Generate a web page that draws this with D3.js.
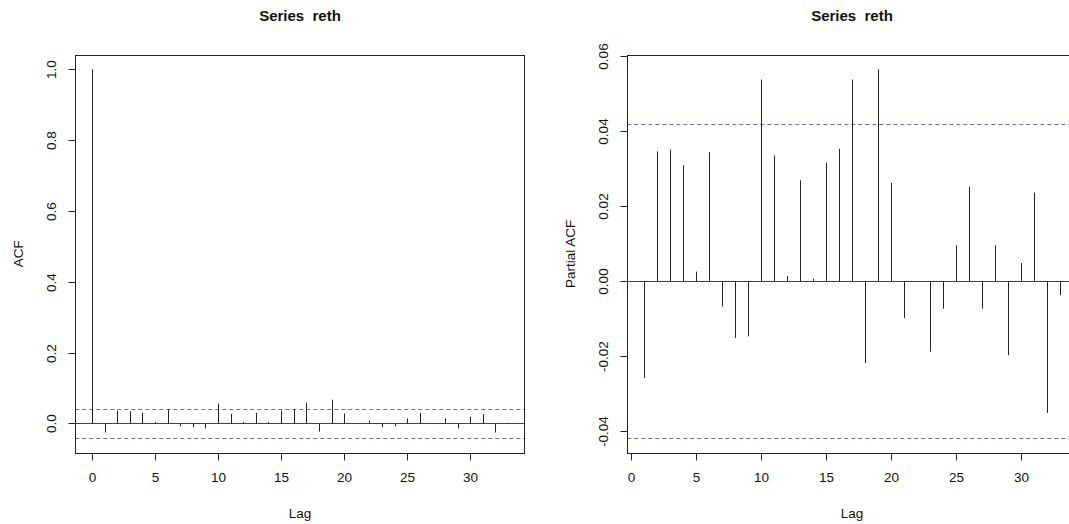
<!DOCTYPE html>
<html>
<head>
<meta charset="utf-8">
<script src="https://cdn.jsdelivr.net/npm/d3@7"></script>
<style>
  html, body { margin: 0; padding: 0; background: #fff; }
  svg { display: block; }
  text { font-family: "Liberation Sans", Arial, Helvetica, sans-serif; fill: #111; }
</style>
</head>
<body>
<svg id="chart" width="1069" height="524"></svg>
<script>
// Autocorrelation of reth, lags 0..33
const acfLags = d3.range(0, 34);
const acfValues = [1.000, -0.026, 0.036, 0.034, 0.030, 0.004, 0.040, -0.008, -0.011, -0.014,
                   0.056, 0.027, 0.004, 0.030, 0.004, 0.036, 0.041, 0.058, -0.023, 0.067,
                   0.028, -0.002, 0.008, -0.011, -0.008, 0.014, 0.030, -0.002, 0.014, -0.014,
                   0.019, 0.026, -0.026, 0.002];

// Partial autocorrelation of reth, lags 1..33
const pacfLags = d3.range(1, 34);
const pacfValues = [-0.0259, 0.0346, 0.0351, 0.0309, 0.0025, 0.0344, -0.0068, -0.0152, -0.0148, 0.0538,
                    0.0335, 0.0013, 0.0269, 0.0006, 0.0316, 0.0353, 0.0538, -0.0219, 0.0565, 0.0262,
                    -0.0099, -0.0003, -0.0189, -0.0074, 0.0095, 0.0252, -0.0074, 0.0095, -0.0198, 0.0048,
                    0.0236, -0.0352, -0.0038];

// 95% confidence bound (1.96 / sqrt(n))
const confLimit = 0.042;

const xTicks = [0, 5, 10, 15, 20, 25, 30];
const acfYTicks = [0.0, 0.2, 0.4, 0.6, 0.8, 1.0];
const pacfYTicks = [-0.04, -0.02, 0.00, 0.02, 0.04, 0.06];

const svg = d3.select("#chart");
const FONT = '"Liberation Sans", Arial, sans-serif';

// range extended by 4% on each side, as in base graphics
function padded(lo, hi) {
  const d = (hi - lo) * 0.04;
  return [lo - d, hi + d];
}
const px = v => Math.round(v) + 0.5;

function panel(opts) {
  const { left, top, width, height, lags, values, yTicks, yFmt, ylab, id } = opts;
  const g = svg.append("g");

  const x = d3.scaleLinear()
    .domain(padded(d3.min(lags), d3.max(lags)))
    .range([left, left + width]);
  const y = d3.scaleLinear()
    .domain(padded(Math.min(d3.min(values), -confLimit), Math.max(d3.max(values), confLimit)))
    .range([top + height, top]);

  const clipId = "clip-" + id;
  svg.append("clipPath").attr("id", clipId)
    .append("rect").attr("x", left).attr("y", top).attr("width", width).attr("height", height);

  const plot = g.append("g").attr("clip-path", `url(#${clipId})`);

  // zero line
  plot.append("line")
    .attr("x1", left).attr("x2", left + width)
    .attr("y1", px(y(0))).attr("y2", px(y(0)))
    .attr("stroke", "#444").attr("stroke-width", 1);

  // confidence bounds
  plot.selectAll("line.bound")
    .data([confLimit, -confLimit])
    .join("line")
    .attr("class", "bound")
    .attr("x1", left).attr("x2", left + width)
    .attr("y1", c => px(y(c))).attr("y2", c => px(y(c)))
    .attr("stroke", "#6c6cb0").attr("stroke-width", 1)
    .attr("stroke-dasharray", "4,3");

  // spikes
  plot.selectAll("line.spike")
    .data(lags.map((l, i) => ({ lag: l, v: values[i] })))
    .join("line")
    .attr("class", "spike")
    .attr("x1", d => px(x(d.lag))).attr("x2", d => px(x(d.lag)))
    .attr("y1", px(y(0))).attr("y2", d => y(d.v))
    .attr("stroke", "#222").attr("stroke-width", 1);

  // frame
  g.append("rect")
    .attr("x", px(left)).attr("y", px(top))
    .attr("width", Math.round(width)).attr("height", Math.round(height))
    .attr("fill", "none").attr("stroke", "#222").attr("stroke-width", 1);

  // x axis
  const xAxis = d3.axisBottom(x).tickValues(xTicks).tickSize(7).tickPadding(12).tickSizeOuter(0)
    .tickFormat(d3.format("d"));
  const xg = g.append("g").attr("transform", `translate(0,${px(top + height)})`).call(xAxis);
  xg.select(".domain").remove();
  xg.selectAll(".tick").attr("transform", d => `translate(${px(x(d))},0)`);
  xg.selectAll(".tick line").attr("stroke", "#222");
  xg.selectAll("text").attr("font-size", 13.5).attr("fill", "#111").style("font-family", FONT);

  // y axis with labels parallel to the axis
  const yAxis = d3.axisLeft(y).tickValues(yTicks).tickSize(7).tickSizeOuter(0).tickFormat(yFmt);
  const yg = g.append("g").attr("transform", `translate(${px(left)},0)`).call(yAxis);
  yg.select(".domain").remove();
  yg.selectAll(".tick").attr("transform", d => `translate(0,${px(y(d))})`);
  yg.selectAll(".tick line").attr("stroke", "#222");
  yg.selectAll(".tick text")
    .attr("x", null)
    .attr("text-anchor", "middle")
    .attr("transform", "translate(-24,0) rotate(-90)")
    .attr("dy", "0.35em")
    .attr("font-size", 13.5).attr("fill", "#111")
    .style("font-family", FONT);

  // title and axis titles
  g.append("text")
    .attr("x", left + width / 2).attr("y", 21)
    .attr("text-anchor", "middle")
    .attr("font-size", 15).attr("font-weight", "bold")
    .style("white-space", "pre")
    .text("Series  reth");

  g.append("text")
    .attr("x", left + width / 2).attr("y", 518)
    .attr("text-anchor", "middle")
    .attr("font-size", 13.5)
    .text("Lag");

  g.append("text")
    .attr("transform", `translate(${left - 57},${top + height / 2}) rotate(-90)`)
    .attr("text-anchor", "middle")
    .attr("dy", "0.35em")
    .attr("font-size", 13.5)
    .text(ylab);
}

const panelWidth = 449.4;
const panelHeight = 398.3;
const panelTop = 54.7;

panel({
  id: "acf", left: 75.3, top: panelTop, width: panelWidth, height: panelHeight,
  lags: acfLags, values: acfValues, yTicks: acfYTicks,
  yFmt: v => v.toFixed(1), ylab: "ACF"
});

panel({
  id: "pacf", left: 627.3, top: panelTop, width: panelWidth, height: panelHeight,
  lags: pacfLags, values: pacfValues, yTicks: pacfYTicks,
  yFmt: v => v.toFixed(2), ylab: "Partial ACF"
});
</script>
</body>
</html>
